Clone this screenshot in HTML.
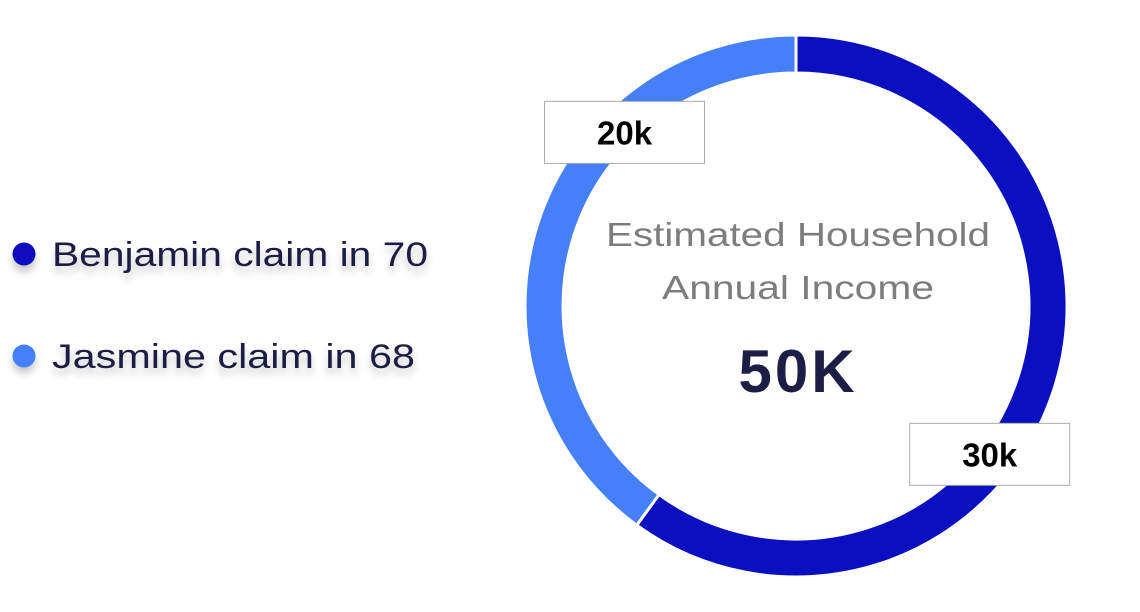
<!DOCTYPE html>
<html><head><meta charset="utf-8"><style>
html,body{margin:0;padding:0;background:#fff;width:1140px;height:612px;overflow:hidden}
svg{display:block;font-family:"Liberation Sans",sans-serif}
</style></head><body>
<svg id="chart" width="1140" height="612" viewBox="0 0 1140 612">
<defs><filter id="sh" x="-10%" y="-50%" width="120%" height="200%"><feDropShadow dx="0" dy="6" stdDeviation="4" flood-color="#000" flood-opacity="0.22"/></filter></defs>
<g id="legend"></g>
<g id="slices"></g>
<g>
<text x="798" y="246" text-anchor="middle" font-size="33" fill="#7d7d7d" textLength="384" lengthAdjust="spacingAndGlyphs">Estimated Household</text>
<text x="798" y="299" text-anchor="middle" font-size="33" fill="#7d7d7d" textLength="272" lengthAdjust="spacingAndGlyphs">Annual Income</text>
<text id="total" x="798" y="392" text-anchor="middle" font-size="60" font-weight="bold" fill="#1c1e45" letter-spacing="3">50K</text>
</g>
<g id="labels"></g>
</svg>
<script>
const categories = ["Benjamin claim in 70", "Jasmine claim in 68"];
const values = [30, 20];
const valueLabels = ["30k", "20k"];
const colors = ["#0a0fbf", "#4580f8"];
const NS = "http://www.w3.org/2000/svg";
const cx = 796, cy = 306, rO = 271, rI = 233;
const total = values.reduce((a, b) => a + b, 0);
document.getElementById('total').textContent = total + 'K';
function pt(a, r) { return [cx + r * Math.sin(a), cy - r * Math.cos(a)]; }
const slices = document.getElementById('slices');
const labels = document.getElementById('labels');
const legend = document.getElementById('legend');
const labelFrac = [0.59, 0.69];
let acc = 0;
values.forEach((v, i) => {
  const a0 = acc / total * 2 * Math.PI; acc += v;
  const a1 = acc / total * 2 * Math.PI;
  const large = (a1 - a0) > Math.PI ? 1 : 0;
  const p0 = pt(a0, rO), p1 = pt(a1, rO), q1 = pt(a1, rI), q0 = pt(a0, rI);
  const p = document.createElementNS(NS, 'path');
  p.setAttribute('d', `M${p0} A${rO},${rO} 0 ${large} 1 ${p1} L${q1} A${rI},${rI} 0 ${large} 0 ${q0} Z`);
  p.setAttribute('fill', colors[i]); p.setAttribute('stroke', '#fff'); p.setAttribute('stroke-width', '3');
  
  
  slices.appendChild(p);
  const am = a0 + (a1 - a0) * labelFrac[i];
  const lp = pt(am, 244);
  const bx = lp[0] - 80;
  const by = lp[1] - 31;
  const g = document.createElementNS(NS, 'g');
  
  
  g.innerHTML = `<rect x="${bx}" y="${by}" width="160" height="62" fill="#fff" stroke="#aaa" stroke-width="1"/><text x="${bx + 80}" y="${by + 43}" text-anchor="middle" font-size="33" font-weight="bold" fill="#000">${valueLabels[i]}</text>`;
  labels.appendChild(g);
  const ly = 254 + i * 102;
  const lg = document.createElementNS(NS, 'g');
  
  
  lg.setAttribute('filter', 'url(#sh)');
  lg.innerHTML = `<circle cx="24" cy="${ly}" r="11.5" fill="${colors[i]}"/><text x="52" y="${ly + 12}" font-size="34" fill="#1c1e45" textLength="${i === 0 ? 376 : 363}" lengthAdjust="spacingAndGlyphs">${categories[i]}</text>`;
  legend.appendChild(lg);
});
</script>
</body></html>
